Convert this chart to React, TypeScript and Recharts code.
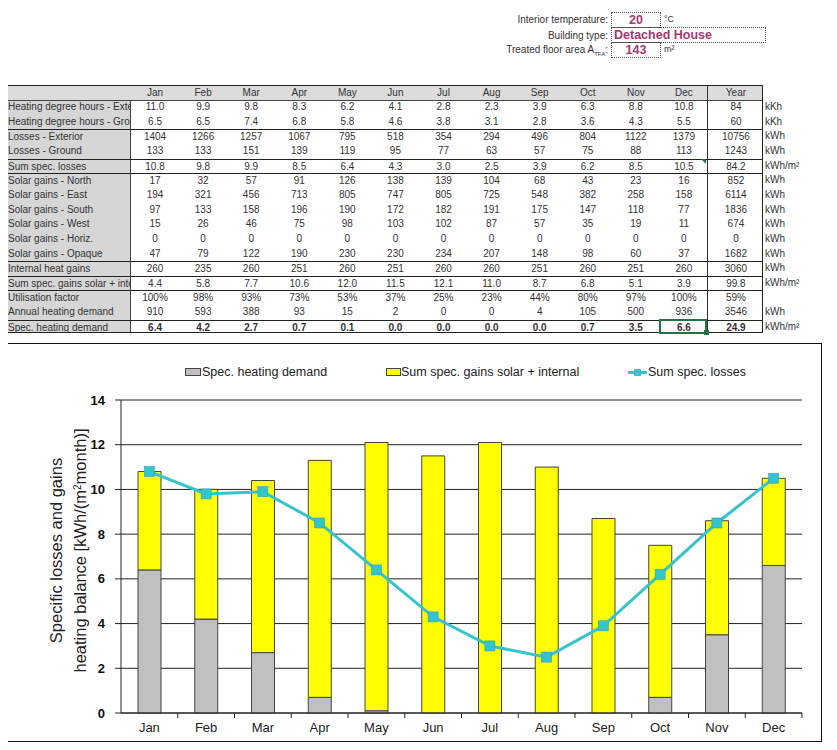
import React from "react";
import { ComposedChart, Bar, Line, XAxis, YAxis, CartesianGrid, Legend, Label } from "recharts";

// ---- data ----
const months = ["Jan", "Feb", "Mar", "Apr", "May", "Jun", "Jul", "Aug", "Sep", "Oct", "Nov", "Dec"];

const hdhExterior = [11.0, 9.9, 9.8, 8.3, 6.2, 4.1, 2.8, 2.3, 3.9, 6.3, 8.8, 10.8];
const hdhGround = [6.5, 6.5, 7.4, 6.8, 5.8, 4.6, 3.8, 3.1, 2.8, 3.6, 4.3, 5.5];
const lossesExterior = [1404, 1266, 1257, 1067, 795, 518, 354, 294, 496, 804, 1122, 1379];
const lossesGround = [133, 133, 151, 139, 119, 95, 77, 63, 57, 75, 88, 113];
const sumSpecLosses = [10.8, 9.8, 9.9, 8.5, 6.4, 4.3, 3.0, 2.5, 3.9, 6.2, 8.5, 10.5];
const solarNorth = [17, 32, 57, 91, 126, 138, 139, 104, 68, 43, 23, 16];
const solarEast = [194, 321, 456, 713, 805, 747, 805, 725, 548, 382, 258, 158];
const solarSouth = [97, 133, 158, 196, 190, 172, 182, 191, 175, 147, 118, 77];
const solarWest = [15, 26, 46, 75, 98, 103, 102, 87, 57, 35, 19, 11];
const solarHoriz = [0, 0, 0, 0, 0, 0, 0, 0, 0, 0, 0, 0];
const solarOpaque = [47, 79, 122, 190, 230, 230, 234, 207, 148, 98, 60, 37];
const internalGains = [260, 235, 260, 251, 260, 251, 260, 260, 251, 260, 251, 260];
const sumSpecGains = [4.4, 5.8, 7.7, 10.6, 12.0, 11.5, 12.1, 11.0, 8.7, 6.8, 5.1, 3.9];
const utilisation = ["100%", "98%", "93%", "73%", "53%", "37%", "25%", "23%", "44%", "80%", "97%", "100%"];
const annualHeating = [910, 593, 388, 93, 15, 2, 0, 0, 4, 105, 500, 936];
const specHeating = [6.4, 4.2, 2.7, 0.7, 0.1, 0.0, 0.0, 0.0, 0.0, 0.7, 3.5, 6.6];

// "Year" column, in row order, as printed
const yearTotals = ["84", "60", "10756", "1243", "84.2", "852", "6114", "1836", "674", "0", "1682", "3060", "99.8", "59%", "3546", "24.9"];

const yTicks = [0, 2, 4, 6, 8, 10, 12, 14];

const font = '"Liberation Sans", Arial, sans-serif';
const ink = "#333";
const pink = "#a8386e";

type Row = { label: string; values: (number | string)[]; unit: string; digits?: number; bold?: boolean; lineAbove?: boolean };

const rows: Row[] = [
  { label: "Heating degree hours - Exterior", values: hdhExterior, unit: "kKh", digits: 1 },
  { label: "Heating degree hours - Ground", values: hdhGround, unit: "kKh", digits: 1 },
  { label: "Losses - Exterior", values: lossesExterior, unit: "kWh", lineAbove: true },
  { label: "Losses - Ground", values: lossesGround, unit: "kWh" },
  { label: "Sum spec. losses", values: sumSpecLosses, unit: "kWh/m²", digits: 1, lineAbove: true },
  { label: "Solar gains - North", values: solarNorth, unit: "kWh", lineAbove: true },
  { label: "Solar gains - East", values: solarEast, unit: "kWh" },
  { label: "Solar gains - South", values: solarSouth, unit: "kWh" },
  { label: "Solar gains - West", values: solarWest, unit: "kWh" },
  { label: "Solar gains - Horiz.", values: solarHoriz, unit: "kWh" },
  { label: "Solar gains - Opaque", values: solarOpaque, unit: "kWh" },
  { label: "Internal heat gains", values: internalGains, unit: "kWh", lineAbove: true },
  { label: "Sum spec. gains solar + internal", values: sumSpecGains, unit: "kWh/m²", digits: 1, lineAbove: true },
  { label: "Utilisation factor", values: utilisation, unit: "", lineAbove: true },
  { label: "Annual heating demand", values: annualHeating, unit: "kWh" },
  { label: "Spec. heating demand", values: specHeating, unit: "kWh/m²", digits: 1, bold: true, lineAbove: true },
];

const chartData = months.map((m, i) => ({
  month: m,
  heating: specHeating[i],
  gains: sumSpecGains[i],
  losses: sumSpecLosses[i],
}));

// sheet layout
const T_LEFT = 4;
const T_TOP = 85;
const LABEL_W = 126;
const MONTH_W = 48.08;
const YEAR_W = 56;
const HEAD_H = 14;
const ROW_H = 14.65;
const T_W = LABEL_W + MONTH_W * 12 + YEAR_W;
const T_H = HEAD_H + ROW_H * rows.length;

const fmt = (v: number | string, digits?: number) =>
  typeof v === "number" && digits ? v.toFixed(digits) : String(v);

function Sheet() {
  const cell = (w: number, bold?: boolean): React.CSSProperties => ({
    width: w,
    textAlign: "center",
    fontWeight: bold ? 700 : 400,
    flex: "none",
  });
  return (
    <>
      <div
        style={{
          position: "absolute",
          left: T_LEFT,
          top: T_TOP,
          width: T_W,
          height: T_H,
          border: "1px solid #222",
          boxSizing: "border-box",
          fontFamily: font,
          fontSize: 10,
          color: ink,
        }}
      >
        <div style={{ position: "absolute", left: 0, top: 0, width: LABEL_W - 1, height: "100%", background: "#d6d6d6", borderRight: "1px solid #444" }} />
        <div style={{ position: "absolute", left: 0, top: 0, right: 0, height: HEAD_H, background: "#dcdcdc", borderBottom: "1px solid #444" }} />
        <div style={{ position: "absolute", left: LABEL_W + MONTH_W * 12 - 1, top: 0, width: 1, height: "100%", background: "#333" }} />
        {/* header */}
        <div style={{ position: "absolute", left: 0, top: 0, height: HEAD_H, lineHeight: `${HEAD_H}px`, display: "flex" }}>
          <div style={{ width: LABEL_W, flex: "none" }} />
          {months.map((m) => (
            <div key={m} style={cell(MONTH_W)}>{m}</div>
          ))}
          <div style={cell(YEAR_W)}>Year</div>
        </div>
        {rows.map((r, i) => (
          <div
            key={r.label}
            style={{
              position: "absolute",
              left: 0,
              top: HEAD_H + i * ROW_H,
              height: ROW_H,
              lineHeight: `${ROW_H - 1}px`,
              display: "flex",
              borderTop: r.lineAbove && i > 0 ? "1px solid #222" : undefined,
              boxSizing: "border-box",
              width: T_W - 2,
            }}
          >
            <div style={{ width: LABEL_W - 4, paddingLeft: 3, marginRight: 1, whiteSpace: "nowrap", overflow: "hidden", flex: "none" }}>{r.label}</div>
            {r.values.map((v, j) => (
              <div key={j} style={cell(MONTH_W, r.bold)}>{fmt(v, r.digits)}</div>
            ))}
            <div style={cell(YEAR_W, r.bold)}>{yearTotals[i]}</div>
          </div>
        ))}
        {/* Excel selection on Dec spec. heating demand */}
        <div
          style={{
            position: "absolute",
            left: LABEL_W + MONTH_W * 11 - 1,
            top: HEAD_H + ROW_H * 15 - 1,
            width: MONTH_W,
            height: ROW_H + 1,
            border: "2px solid #217346",
            boxSizing: "border-box",
          }}
        />
        <div style={{ position: "absolute", left: LABEL_W + MONTH_W * 12 - 4, top: HEAD_H + ROW_H * 16 - 4, width: 5, height: 5, background: "#217346" }} />
        {/* comment marker */}
        <div
          style={{
            position: "absolute",
            left: LABEL_W + MONTH_W * 12 - 7,
            top: HEAD_H + ROW_H * 4,
            width: 0,
            height: 0,
            borderTop: "5px solid #217346",
            borderLeft: "5px solid transparent",
          }}
        />
      </div>
      {/* unit column */}
      {rows.map((r, i) => (
        <div
          key={r.label + "u"}
          style={{
            position: "absolute",
            left: T_LEFT + T_W + 2,
            top: T_TOP + 1 + HEAD_H + i * ROW_H,
            height: ROW_H,
            lineHeight: `${ROW_H - 1}px`,
            fontFamily: font,
            fontSize: 10,
            color: ink,
          }}
        >
          {r.unit}
        </div>
      ))}
    </>
  );
}

function Inputs() {
  const label: React.CSSProperties = { position: "absolute", right: 837 - 608, fontFamily: font, fontSize: 10, color: ink, lineHeight: "15px" };
  const box: React.CSSProperties = {
    position: "absolute",
    left: 611,
    border: "1px dotted #555",
    boxSizing: "border-box",
    height: 16,
    lineHeight: "14px",
    fontFamily: font,
    fontSize: 12.5,
    fontWeight: 700,
    color: pink,
  };
  const unit: React.CSSProperties = { position: "absolute", left: 664, fontFamily: font, fontSize: 9, color: ink, lineHeight: "15px" };
  return (
    <>
      <div style={{ ...label, top: 12 }}>Interior temperature:</div>
      <div style={{ ...box, top: 12, width: 50, textAlign: "center" }}>20</div>
      <div style={{ ...unit, top: 12 }}>°C</div>
      <div style={{ ...label, top: 28 }}>Building type:</div>
      <div style={{ ...box, top: 27, width: 155, paddingLeft: 2 }}>Detached House</div>
      <div style={{ ...label, top: 42 }}>
        Treated floor area A<sub style={{ fontSize: 6 }}>TFA</sub>:
      </div>
      <div style={{ ...box, top: 42, width: 50, textAlign: "center" }}>143</div>
      <div style={{ ...unit, top: 42 }}>m²</div>
    </>
  );
}

// chart layout
const PLOT_LEFT = 121;
const PLOT_RIGHT = 802;
const BAND = (PLOT_RIGHT - PLOT_LEFT) / months.length;
const LEGEND_H = 20;

function MonthTick({ x, y, payload }: any) {
  return (
    <g>
      <line x1={x + BAND / 2} x2={x + BAND / 2} y1={y - 8} y2={y - 3} stroke="#222" />
      <text x={x} y={y} dy={11} textAnchor="middle" fontSize={13} fill="#222" fontFamily={font}>
        {payload.value}
      </text>
    </g>
  );
}

function SquareDot({ cx, cy }: any) {
  if (cx == null || cy == null) return null;
  return <rect x={cx - 5} y={cy - 5} width={10} height={10} fill="#35c3cc" stroke="#2aa9b3" strokeWidth={0.6} />;
}

function YTitle({ viewBox }: any) {
  const cy = viewBox.y + viewBox.height / 2 - 6;
  return (
    <g fontFamily={font} fontSize={16.5} fill="#222">
      <text x={56} y={cy} textAnchor="middle" transform={`rotate(-90 56 ${cy})`} dy={6}>
        Specific losses and gains
      </text>
      <text x={80} y={cy} textAnchor="middle" transform={`rotate(-90 80 ${cy})`} dy={6}>
        heating balance [kWh/(m<tspan baselineShift="super" fontSize={10}>2</tspan>month)]
      </text>
    </g>
  );
}

function ChartLegend() {
  const text: React.CSSProperties = { position: "absolute", top: 3, fontSize: 12.5, color: "#222", whiteSpace: "nowrap" };
  return (
    <div style={{ position: "relative", width: 837, height: LEGEND_H, fontFamily: font }}>
      <div style={{ position: "absolute", left: 185, top: 6, width: 16, height: 8, background: "#c0c0c0", border: "1px solid #444", boxSizing: "border-box" }} />
      <div style={{ ...text, left: 202 }}>Spec. heating demand</div>
      <div style={{ position: "absolute", left: 386, top: 6, width: 15, height: 8, background: "#ffff00", border: "1px solid #444", boxSizing: "border-box" }} />
      <div style={{ ...text, left: 401 }}>Sum spec. gains solar + internal</div>
      <div style={{ position: "absolute", left: 628, top: 9, width: 19, height: 3, background: "#35c3cc" }} />
      <div style={{ position: "absolute", left: 634, top: 7, width: 7, height: 7, background: "#35c3cc" }} />
      <div style={{ ...text, left: 648 }}>Sum spec. losses</div>
    </div>
  );
}

function BalanceChart() {
  return (
    <div style={{ position: "absolute", left: 0, top: 343 }}>
      <div style={{ position: "absolute", left: 6, top: 0, width: 816, height: 399, border: "1px solid #111", boxSizing: "border-box" }} />
      <ComposedChart
        width={837}
        height={400}
        data={chartData}
        margin={{ top: 57 - LEGEND_H, right: 837 - PLOT_RIGHT, left: PLOT_LEFT - 40, bottom: 5 }}
        barSize={23}
      >
        <CartesianGrid vertical={false} stroke="#222" strokeWidth={1} />
        <XAxis
          dataKey="month"
          height={25}
          axisLine={{ stroke: "#222" }}
          tickLine={false}
          tick={<MonthTick />}
          interval={0}
        />
        <YAxis
          width={40}
          domain={[0, 14]}
          ticks={yTicks}
          axisLine={{ stroke: "#222" }}
          tickLine={{ stroke: "#222" }}
          tickSize={6}
          tickMargin={10}
          tick={{ fontSize: 13, fontWeight: 700, fill: "#111", fontFamily: font }}
        >
          <Label content={<YTitle />} />
        </YAxis>
        <Legend verticalAlign="top" content={<ChartLegend />} wrapperStyle={{ top: 19, left: 0, width: 837 }} />
        <Bar dataKey="heating" name="Spec. heating demand" stackId="a" fill="#c0c0c0" stroke="#444" strokeWidth={1} isAnimationActive={false} />
        <Bar dataKey="gains" name="Sum spec. gains solar + internal" stackId="a" fill="#ffff00" stroke="#444" strokeWidth={1} isAnimationActive={false} />
        <Line
          dataKey="losses"
          name="Sum spec. losses"
          type="linear"
          stroke="#35c3cc"
          strokeWidth={3}
          dot={<SquareDot />}
          activeDot={false}
          isAnimationActive={false}
        />
      </ComposedChart>
    </div>
  );
}

export default function App() {
  return (
    <div style={{ position: "relative", width: 837, height: 750, margin: -8, background: "#fff", overflow: "hidden" }}>
      <Inputs />
      <Sheet />
      <BalanceChart />
    </div>
  );
}
